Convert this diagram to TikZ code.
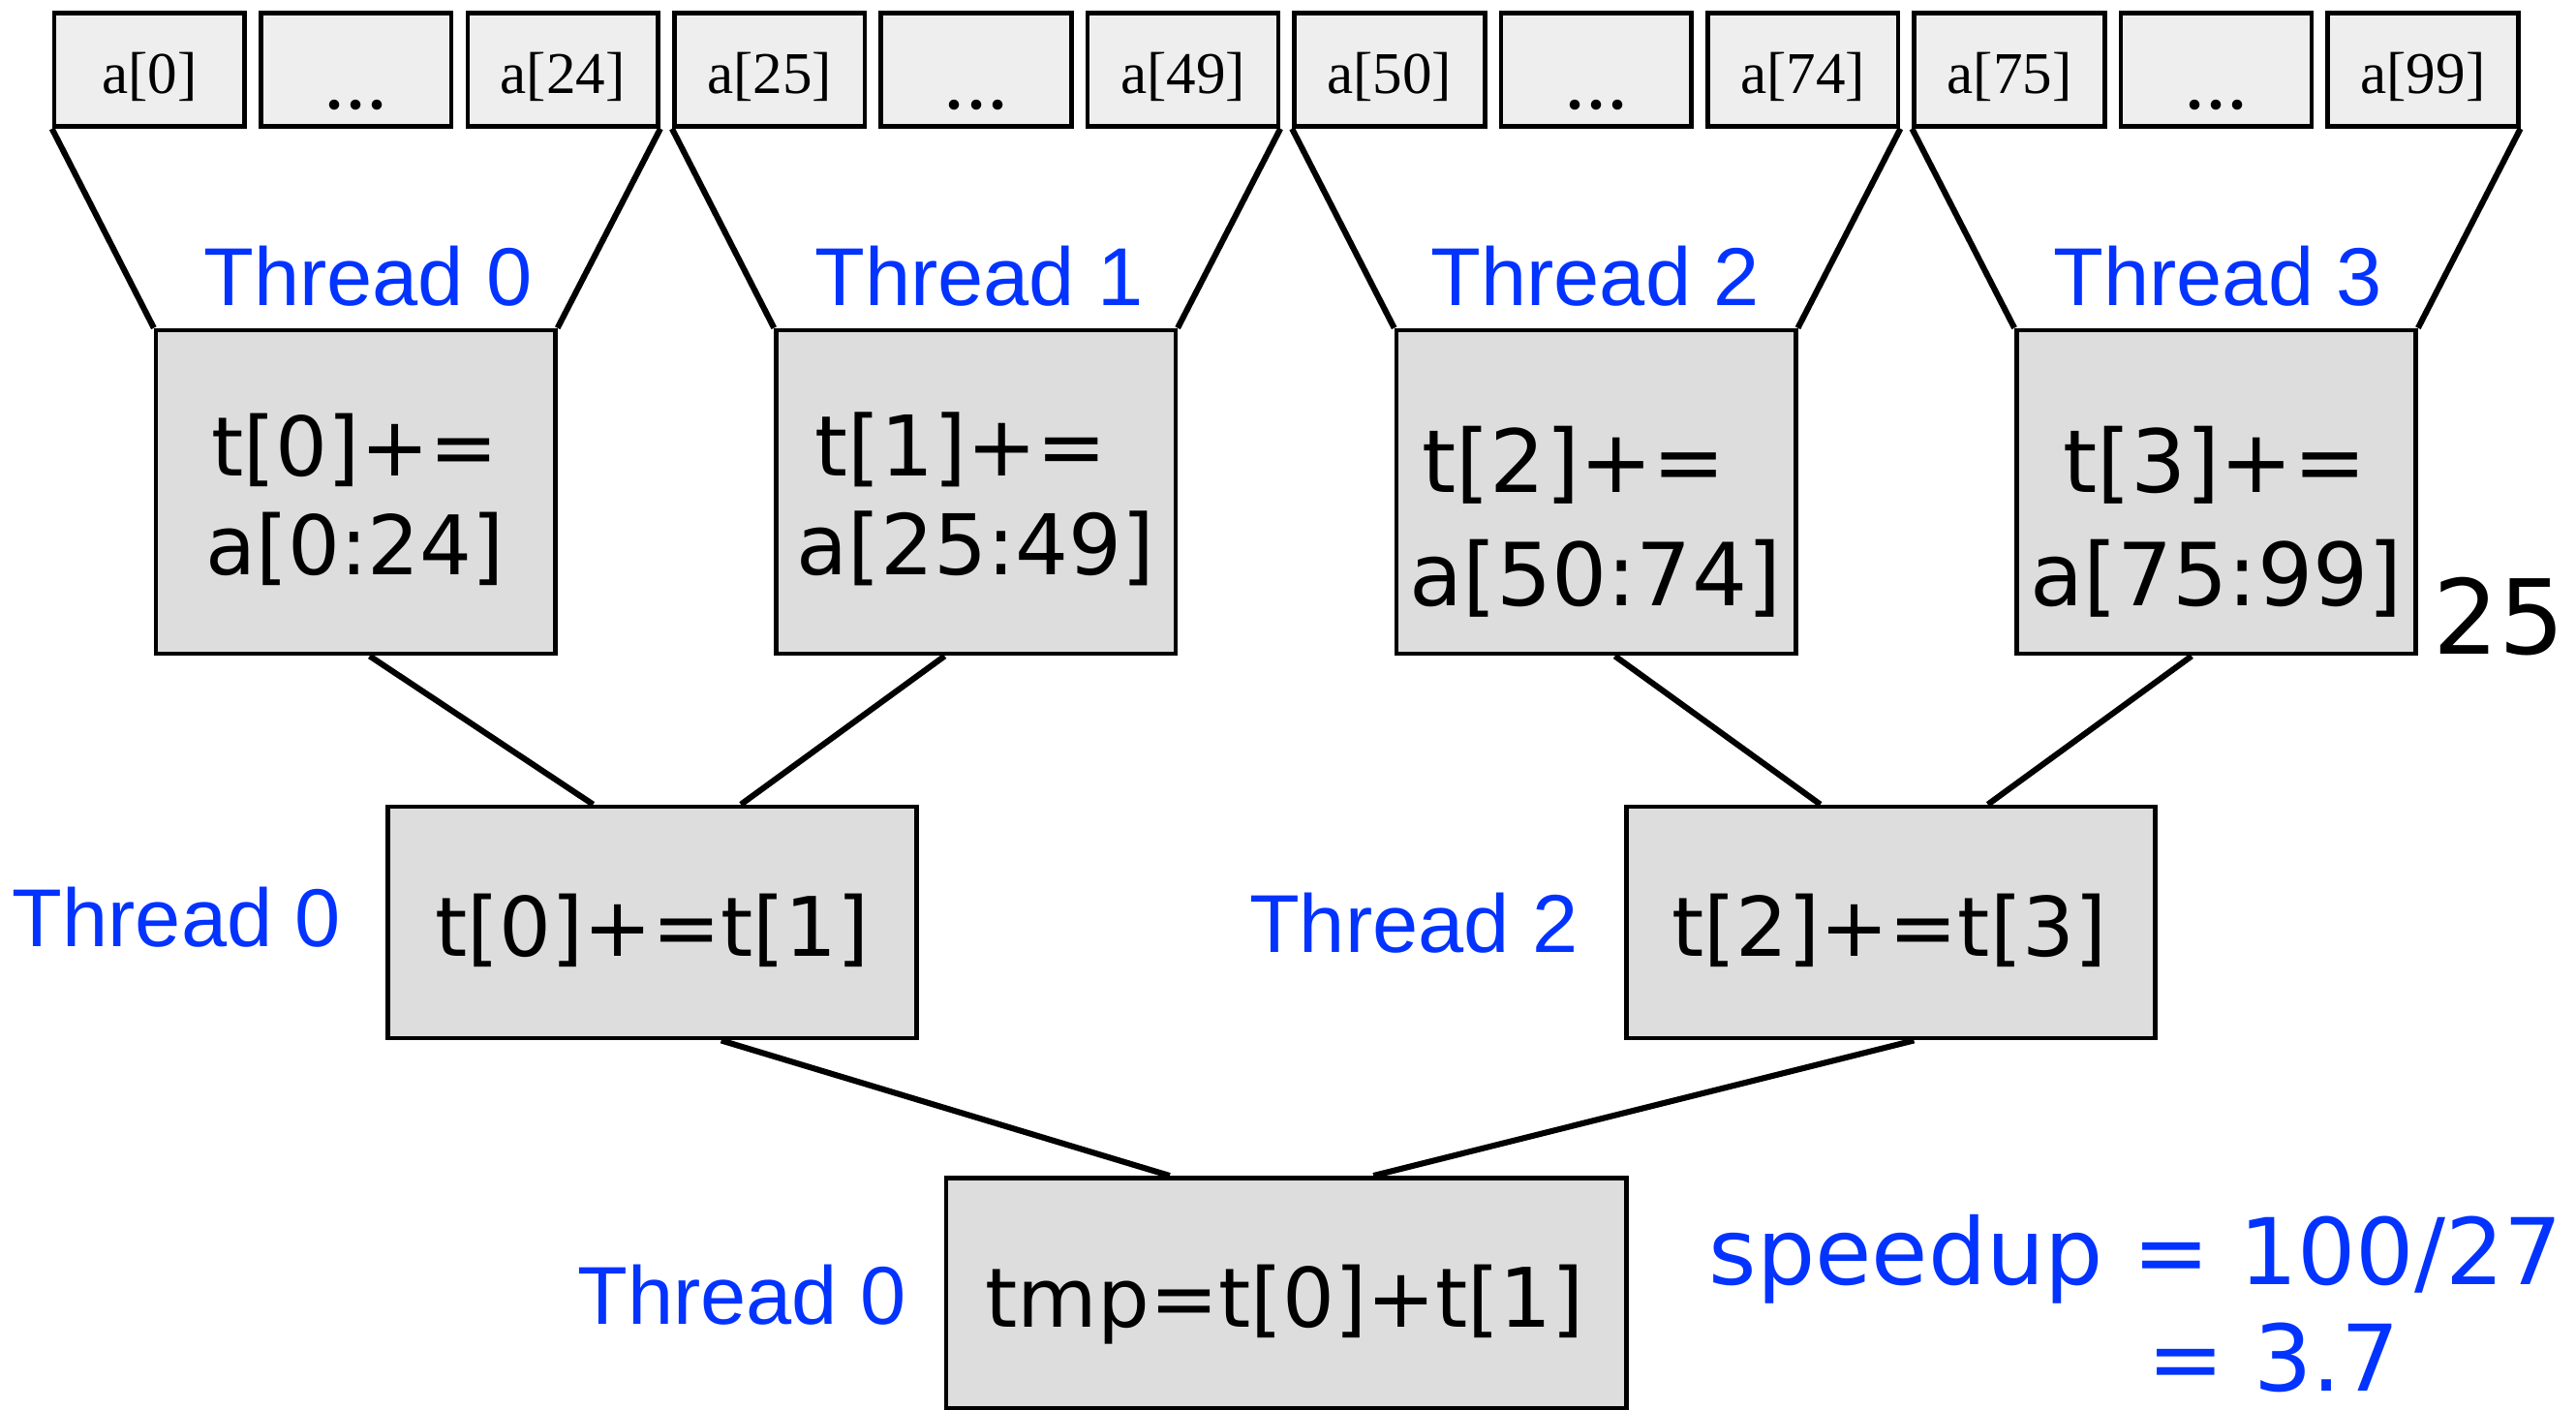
\documentclass[tikz,border=0pt]{standalone}
\usepackage{fontspec}
\setmainfont{Liberation Serif}
\newfontfamily\labelfont{Liberation Sans}
\newfontfamily\codefont{DejaVu Sans}
\usetikzlibrary{calc}
\definecolor{thblue}{RGB}{3,51,255}
\definecolor{cellfill}{RGB}{238,238,238}
\definecolor{opfill}{RGB}{221,221,221}
\begin{document}
\begin{tikzpicture}[x=1pt,y=-1pt,
  cell/.style={draw, line width=2.7pt, fill=cellfill, minimum width=116pt, minimum height=69pt, inner sep=0pt},
  opbox/.style={draw, line width=2.7pt, fill=opfill, inner sep=0pt},
  thr/.style={text=thblue, font=\labelfont\fontsize{50}{60}\selectfont, inner sep=0pt, anchor=base},
  code/.style={font=\codefont\fontsize{50}{60}\selectfont, inner sep=0pt, anchor=base},
  bigcode/.style={font=\codefont\fontsize{53}{63}\selectfont, inner sep=0pt, anchor=base},
  arr/.style={font=\fontsize{36}{43}\selectfont, inner sep=0pt, anchor=base},
  dots/.style={font=\fontsize{52}{60}\selectfont, inner sep=0pt, anchor=base},
  link/.style={line width=3.6pt}]
\useasboundingbox (0,0) rectangle (1568,858);

% array cells, four groups of three
\foreach \g/\lo/\hi in {0/0/24,1/25/49,2/50/74,3/75/99}{
  \node[cell] (c\g a) at ({91+377.4*\g},42.5) {};
  \node[cell] (c\g b) at ({91+377.4*\g+125.8},42.5) {};
  \node[cell] (c\g c) at ({91+377.4*\g+251.6},42.5) {};
  \node[arr] (v\g a) at ($(c\g a.center)+(0,14.5)$) {a[\lo]};
  \node[dots] (v\g b) at ($(c\g b.center)+(0,24)$) {...};
  \node[arr] (v\g c) at ($(c\g c.center)+(0,14.5)$) {a[\hi]};
}

% per-thread partial sums
\foreach \g in {0,1,2,3}{
  \node[opbox, minimum width=243pt, minimum height=197pt] (p\g) at ({216.5+377.5*\g},299.5) {};
  \draw[link] (c\g a.south west) -- (p\g.north west);
  \draw[link] (c\g c.south east) -- (p\g.north east);
}
\node[thr] (h0) at (224,186) {Thread 0};
\node[thr] (h1) at (596,186) {Thread 1};
\node[thr] (h2) at (971,186) {Thread 2};
\node[thr] (h3) at (1350,186) {Thread 3};

\node[code] (s0a) at (216,290) {t[0]+=};
\node[code] (s0b) at (216,350) {a[0:24]};
\node[code, font=\codefont\fontsize{51}{61}\selectfont] (s1a) at (585,290) {t[1]+=};
\node[code, font=\codefont\fontsize{51}{61}\selectfont] (s1b) at (594,350) {a[25:49]};
\node[bigcode] (s2a) at (958,300) {t[2]+=};
\node[bigcode] (s2b) at (971,369) {a[50:74]};
\node[bigcode] (s3a) at (1348,300) {t[3]+=};
\node[bigcode] (s3b) at (1349,369) {a[75:99]};
\node[font=\codefont\fontsize{63}{70}\selectfont, inner sep=0pt, anchor=base west] (n25) at (1481,398) {25};

% pairwise reduction
\node[opbox, minimum width=322pt, minimum height=141pt] (m0) at (397,561.5) {};
\node[opbox, minimum width=322pt, minimum height=141pt] (m1) at (1151,561.5) {};
\node[code] (r0) at (397,582) {t[0]+=t[1]};
\node[code] (r1) at (1150,582) {t[2]+=t[3]};
\node[thr] (h4) at (107.5,576) {Thread 0};
\node[thr] (h5) at (860.5,580) {Thread 2};

\draw[link] ([xshift=8.5pt]p0.south) -- ([xshift=-36pt]m0.north);
\draw[link] ([xshift=-19pt]p1.south) -- ([xshift=54pt]m0.north);
\draw[link] ([xshift=11.5pt]p2.south) -- ([xshift=-43pt]m1.north);
\draw[link] ([xshift=-15pt]p3.south) -- ([xshift=59pt]m1.north);

% final sum
\node[opbox, minimum width=414pt, minimum height=140pt] (f) at (783,787) {};
\node[code] (r2) at (782,808) {tmp=t[0]+t[1]};
\node[thr] (h6) at (451.5,806) {Thread 0};
\draw[link] ([xshift=42pt]m0.south) -- ([xshift=-71pt]f.north);
\draw[link] ([xshift=14pt]m1.south) -- ([xshift=53pt]f.north);

% speedup note
\node[font=\codefont\fontsize{56}{66}\selectfont, text=thblue, inner sep=0pt, anchor=base west] (sp1) at (1040,782) {speedup = 100/27};
\node[font=\codefont\fontsize{56}{66}\selectfont, text=thblue, inner sep=0pt, anchor=base west] (sp2) at (1307,847) {= 3.7};
\end{tikzpicture}
\end{document}
